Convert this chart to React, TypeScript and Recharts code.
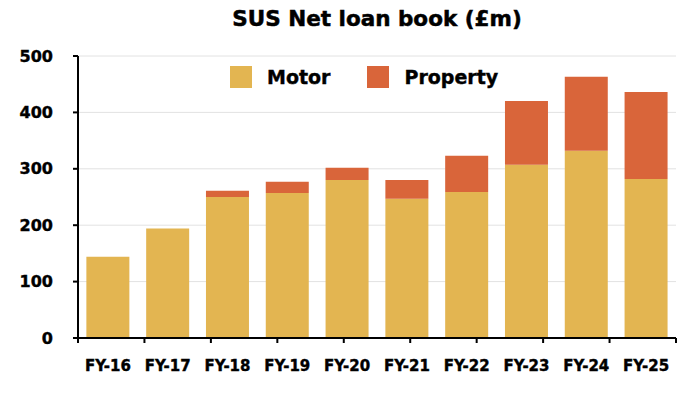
import React from 'react';
import { BarChart, Bar, XAxis, YAxis, CartesianGrid, Legend } from 'recharts';

const categories = ['FY-16', 'FY-17', 'FY-18', 'FY-19', 'FY-20', 'FY-21', 'FY-22', 'FY-23', 'FY-24', 'FY-25'];
const motor = [144, 194, 250, 257, 280, 247, 259, 307, 332, 282];
const property = [0, 0, 11, 20, 22, 33, 64, 113, 131, 154];
const yTicks = [0, 100, 200, 300, 400, 500];
const boundaryTicks = [0, 1, 2, 3, 4, 5, 6, 7, 8, 9, 10];

const MOTOR_COLOR = '#E3B551';
const PROPERTY_COLOR = '#D9653A';
const FONT = '"DejaVu Sans", Verdana, sans-serif';

const data = categories.map((name, i) => ({ name, motor: motor[i], property: property[i] }));

const renderLegend = (props: any) => {
  const payload = props.payload || [];
  return (
    <div style={{ display: 'flex', alignItems: 'center', fontFamily: FONT, fontWeight: 700, fontSize: 19, color: '#000', WebkitTextStroke: '0.4px #000' }}>
      {payload.map((e: any, i: number) => (
        <div key={i} style={{ display: 'flex', alignItems: 'center', marginRight: i === 0 ? 37 : 0 }}>
          <span style={{ width: 22, height: 22, background: e.color, display: 'inline-block', marginRight: 15 }} />
          <span style={{ lineHeight: '22px' }}>{e.value}</span>
        </div>
      ))}
    </div>
  );
};

export default function App() {
  const W = 684;
  const H = 384;
  return (
    <div style={{ position: 'relative', width: W, height: H }}>
      <div
        style={{
          position: 'absolute',
          left: 70,
          width: 598,
          top: 0,
          textAlign: 'center',
          fontFamily: FONT,
          fontWeight: 700,
          fontSize: 21.5,
          lineHeight: '22px',
          color: '#000',
          WebkitTextStroke: '0.5px #000',
          zIndex: 2,
        }}
      >
        SUS Net loan book (£m)
      </div>
      <BarChart
        width={W}
        height={H}
        data={data}
        margin={{ top: 48, right: 16, left: 0, bottom: 24 }}
        barCategoryGap="14%"
      >
        <CartesianGrid vertical={false} stroke="#e2e2e2" strokeWidth={1} xAxisId="b" />
        <Bar xAxisId="b" dataKey="motor" name="Motor" stackId="s" fill={MOTOR_COLOR} isAnimationActive={false} />
        <Bar xAxisId="b" dataKey="property" name="Property" stackId="s" fill={PROPERTY_COLOR} isAnimationActive={false} />
        <XAxis
          xAxisId="b"
          dataKey="name"
          axisLine={false}
          tickLine={false}
          tickSize={0}
          tickMargin={21}
          height={29}
          interval={0}
          tick={{ fill: '#000', stroke: '#000', strokeWidth: 0.4, fontSize: 15, fontWeight: 700, fontFamily: FONT }}
        />
        <XAxis
          xAxisId="a"
          type="number"
          domain={[0, 10]}
          ticks={boundaryTicks}
          tickFormatter={() => ''}
          axisLine={{ stroke: '#000', strokeWidth: 2 }}
          tickLine={{ stroke: '#000', strokeWidth: 2 }}
          tickSize={5}
          height={1}
          allowDataOverflow
        />
        <YAxis
          width={70}
          domain={[0, 500]}
          ticks={yTicks}
          interval={0}
          axisLine={{ stroke: '#000', strokeWidth: 2 }}
          tickLine={{ stroke: '#000', strokeWidth: 2 }}
          tickSize={5}
          tickMargin={20}
          tick={{ fill: '#000', stroke: '#000', strokeWidth: 0.4, fontSize: 16, fontWeight: 700, fontFamily: FONT }}
        />
        <Legend
          layout="horizontal"
          verticalAlign="middle"
          align="center"
          content={renderLegend}
          wrapperStyle={{ position: 'absolute', top: 58, left: 222, width: 'auto' }}
        />
      </BarChart>
    </div>
  );
}
